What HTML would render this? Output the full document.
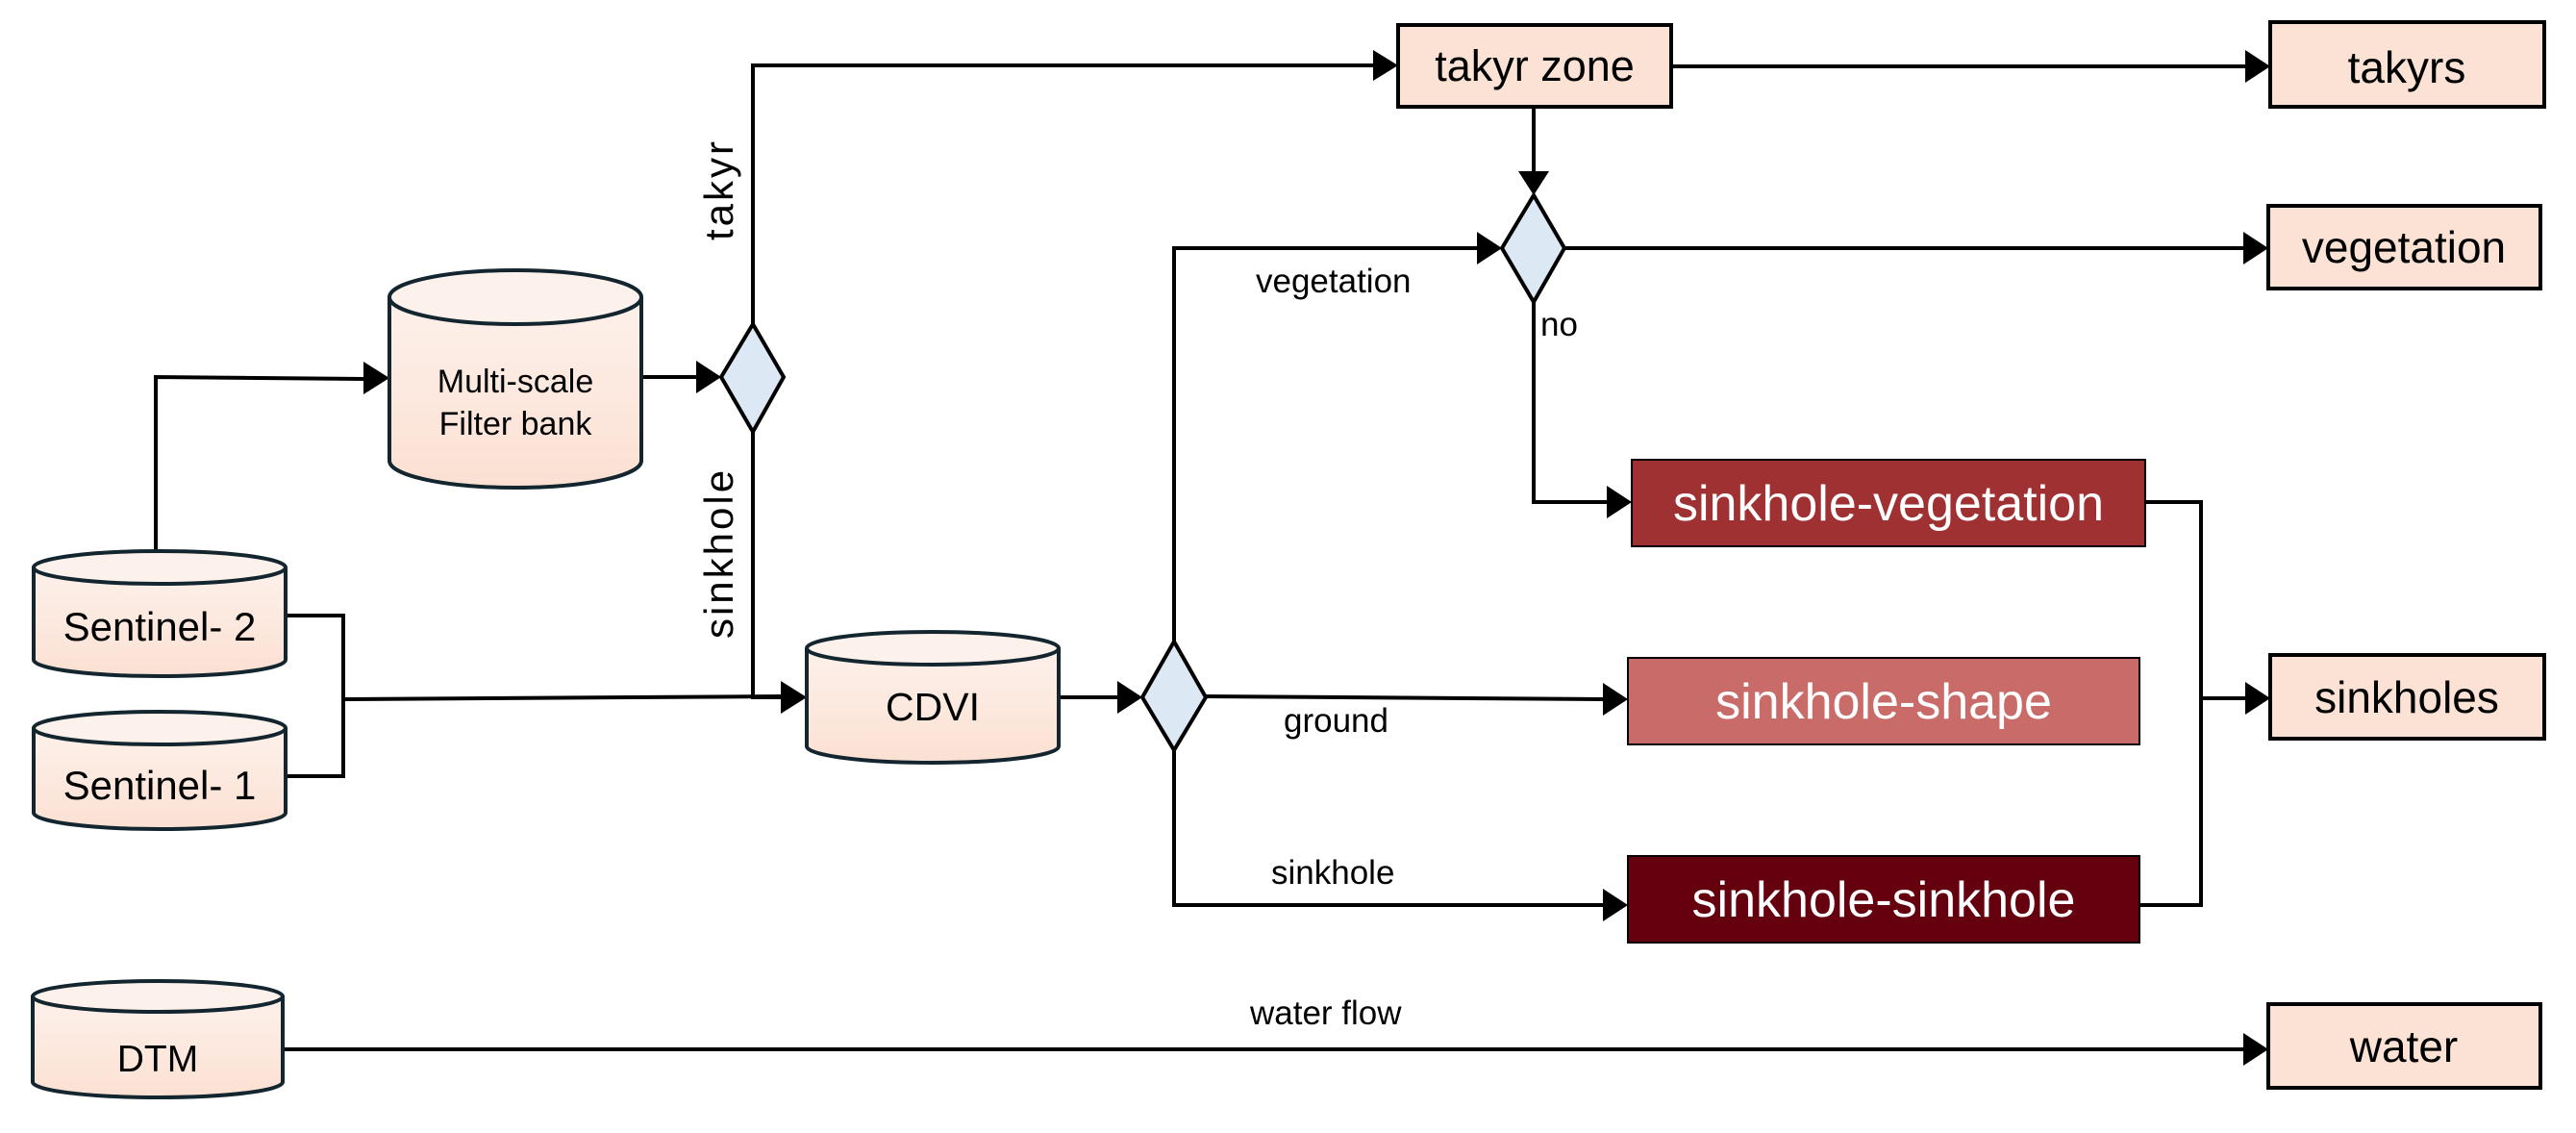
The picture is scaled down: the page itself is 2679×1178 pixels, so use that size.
<!DOCTYPE html>
<html><head><meta charset="utf-8"><style>
html,body{margin:0;padding:0;background:#fff;}
svg{display:block;}
text{font-family:"Liberation Sans",sans-serif;}
</style></head><body>
<svg width="2679" height="1178" viewBox="0 0 2679 1178" xmlns="http://www.w3.org/2000/svg">
<defs>
<linearGradient id="g" x1="0" y1="0" x2="0" y2="1"><stop offset="0" stop-color="#fdf1eb"/><stop offset="1" stop-color="#fbe0d2"/></linearGradient>
</defs>
<g fill="none" stroke="#000" stroke-width="4">
<polyline points="162,573 162,392 380,394"/>
<line x1="667" y1="392" x2="726" y2="392"/>
<polyline points="783,337 783,68 1430,68"/>
<polyline points="783,449 783,725 814,725"/>
<polyline points="297,640 357,640 357,807 296,807"/>
<line x1="357" y1="727" x2="814" y2="724"/>
<line x1="1101" y1="725" x2="1164" y2="725"/>
<polyline points="1221,667 1221,258 1538,258"/>
<line x1="1254" y1="724" x2="1669" y2="727"/>
<polyline points="1221,780 1221,941 1669,941"/>
<line x1="1738" y1="69" x2="2337" y2="69"/>
<line x1="1595" y1="111" x2="1595" y2="180"/>
<line x1="1627" y1="258" x2="2335" y2="258"/>
<polyline points="1595,314 1595,522 1673,522"/>
<polyline points="2231,522 2289,522 2289,941 2225,941"/>
<line x1="2289" y1="726" x2="2337" y2="726"/>
<line x1="294" y1="1091" x2="2335" y2="1091"/>
</g>
<g fill="#000">
<polygon points="378,376 405,393 378,410"/>
<polygon points="724,375 750,392 724,409"/>
<polygon points="1428,52 1454,68 1428,84"/>
<polygon points="812,708 839,725 812,742"/>
<polygon points="1162,708 1188,725 1162,742"/>
<polygon points="1536,241 1562,258 1536,275"/>
<polygon points="1667,710 1693,727 1667,744"/>
<polygon points="1667,924 1693,941 1667,958"/>
<polygon points="2335,52 2361,69 2335,86"/>
<polygon points="1579,178 1595,203 1611,178"/>
<polygon points="2333,241 2359,258 2333,275"/>
<polygon points="1671,505 1697,522 1671,539"/>
<polygon points="2335,709 2361,726 2335,743"/>
<polygon points="2333,1074 2359,1091 2333,1108"/>
</g>
<g stroke="#13252e" stroke-width="4" fill="url(#g)">
<path d="M405,309 L405,479 A131,28 0 0 0 667,479 L667,309"/>
<ellipse cx="536" cy="309" rx="131" ry="28" fill="#fdf1eb"/>
<path d="M35,590 L35,686 A131,17 0 0 0 297,686 L297,590"/>
<ellipse cx="166" cy="590" rx="131" ry="17" fill="#fdf1eb"/>
<path d="M35,757 L35,845 A131,17 0 0 0 297,845 L297,757"/>
<ellipse cx="166" cy="757" rx="131" ry="17" fill="#fdf1eb"/>
<path d="M839,674 L839,776 A131,17 0 0 0 1101,776 L1101,674"/>
<ellipse cx="970" cy="674" rx="131" ry="17" fill="#fdf1eb"/>
<path d="M34,1036 L34,1125 A130,16 0 0 0 294,1125 L294,1036"/>
<ellipse cx="164" cy="1036" rx="130" ry="16" fill="#fdf1eb"/>
</g>
<g fill="#dde8f5" stroke="#000" stroke-width="4">
<polygon points="783,337 815,392 783,449 750,392"/>
<polygon points="1221,667 1254,725 1221,780 1188,725"/>
<polygon points="1595,203 1627,258 1595,314 1562,258"/>
</g>
<g stroke="#000" stroke-width="4" fill="#fbe2d5">
<rect x="1454" y="26" width="284" height="85"/>
<rect x="2361" y="23" width="285" height="88"/>
<rect x="2359" y="214" width="283" height="86"/>
<rect x="2361" y="681" width="285" height="87"/>
<rect x="2359" y="1044" width="283" height="87"/>
</g>
<g stroke="#000" stroke-width="2">
<rect x="1697" y="478" width="534" height="90" fill="#a03133"/>
<rect x="1693" y="684" width="532" height="90" fill="#c96b68"/>
<rect x="1693" y="890" width="532" height="90" fill="#65000f"/>
</g>
<g text-anchor="middle" fill="#000">
<text x="536" y="408" font-size="34">Multi-scale</text>
<text x="536" y="452" font-size="34">Filter bank</text>
<text x="166" y="666" font-size="42">Sentinel- 2</text>
<text x="166" y="831" font-size="42">Sentinel- 1</text>
<text x="970" y="749" font-size="41">CDVI</text>
<text x="164" y="1114" font-size="39">DTM</text>
<text x="1596" y="84" font-size="45">takyr zone</text>
<text x="2503" y="86" font-size="46">takyrs</text>
<text x="2500" y="273" font-size="46">vegetation</text>
<text x="2503" y="741" font-size="46">sinkholes</text>
<text x="2500" y="1104" font-size="46">water</text>
<text x="1964" y="541" font-size="52" fill="#fff">sinkhole-vegetation</text>
<text x="1959" y="747" font-size="52" fill="#fff">sinkhole-shape</text>
<text x="1959" y="953" font-size="52" fill="#fff">sinkhole-sinkhole</text>
<text transform="translate(762,197) rotate(-90)" font-size="42" letter-spacing="3">takyr</text>
<text transform="translate(762,575) rotate(-90)" font-size="42" letter-spacing="3">sinkhole</text>
</g>
<g fill="#000" font-size="35">
<text x="1306" y="304">vegetation</text>
<text x="1602" y="349">no</text>
<text x="1335" y="761">ground</text>
<text x="1322" y="919">sinkhole</text>
<text x="1300" y="1065">water flow</text>
</g>
</svg>
</body></html>
